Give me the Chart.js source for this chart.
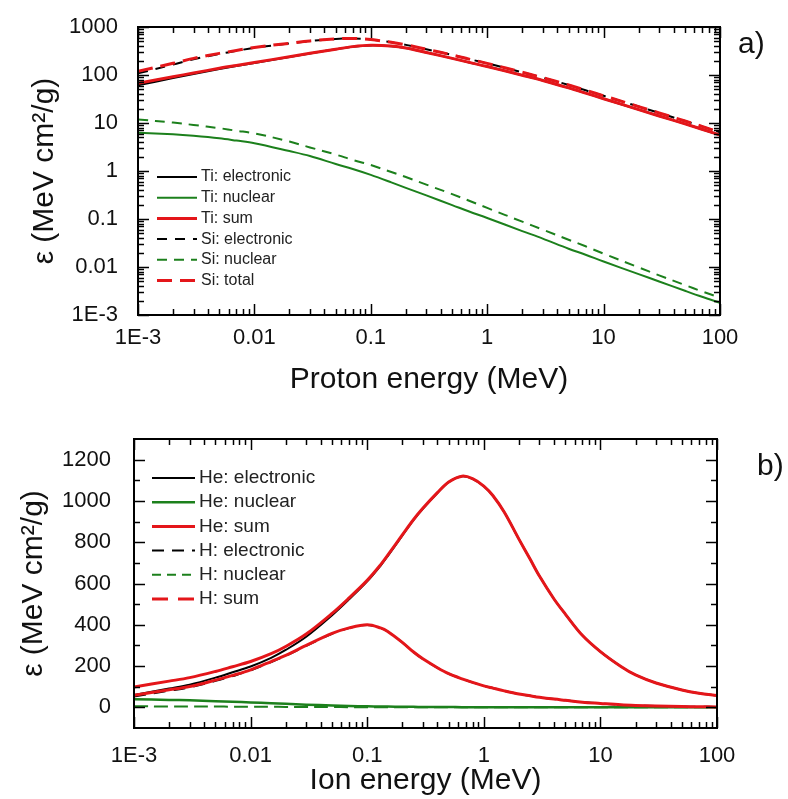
<!DOCTYPE html>
<html>
<head>
<meta charset="utf-8">
<title>Stopping power</title>
<script src="https://cdn.jsdelivr.net/npm/chart.js@4.4.0/dist/chart.umd.min.js"></script>
<style>
  body { margin: 0; background: #fff; }
  #wrap { position: relative; width: 788px; height: 799px; }
  #chartA { position: absolute; left: 0; top: 0; }
  #chartB { position: absolute; left: 0; top: 400px; }
</style>
</head>
<body>
<div id="wrap">
  <canvas id="chartA" width="788" height="400"></canvas>
  <canvas id="chartB" width="788" height="399"></canvas>
</div>
<script>
// ---- panel a) protons in Ti and Si ----
var energyA = [0.001, 0.002, 0.003, 0.005, 0.007, 0.01, 0.02, 0.03, 0.05, 0.07, 0.1, 0.15, 0.2, 0.3, 0.5, 0.7, 1, 2, 3, 5, 7, 10, 20, 30, 50, 70, 100];
var tiElectronic = [61, 86, 105, 133, 154, 178, 237, 281, 344, 389, 414, 399, 365, 295, 222, 183, 150, 99, 77, 54, 42, 32, 19, 14, 9.6, 7.4, 5.6];
var tiNuclear = [6.3, 5.8, 5.4, 4.8, 4.3, 3.8, 2.6, 2.05, 1.4, 1.1, 0.83, 0.58, 0.445, 0.31, 0.195, 0.143, 0.105, 0.056, 0.039, 0.024, 0.018, 0.013, 0.0071, 0.005, 0.0032, 0.0024, 0.0018];
var tiSum = [67, 92, 110, 138, 158, 182, 240, 283, 345, 390, 415, 400, 365, 295, 222, 183, 150, 99, 77, 54, 42, 32, 19, 14, 9.6, 7.4, 5.6];
var siElectronic = [108, 165, 213, 274, 318, 369, 454, 509, 563, 576, 547, 479, 424, 344, 262, 214, 175, 114, 88, 62, 48, 37, 22, 16.2, 11, 8.5, 6.4];
var siNuclear = [11.9, 10.2, 9.1, 7.8, 6.9, 6.1, 4.1, 3.1, 2.2, 1.7, 1.33, 0.95, 0.75, 0.52, 0.33, 0.24, 0.17, 0.088, 0.06, 0.037, 0.027, 0.019, 0.0098, 0.0067, 0.0042, 0.0031, 0.0023];
var siTotal = [120, 175, 222, 282, 325, 375, 458, 512, 565, 578, 548, 480, 425, 345, 262, 214, 175, 114, 88, 62, 48, 37, 22, 16.2, 11, 8.5, 6.4];

// ---- panel b) He and H ions ----
var energyB = [0.001, 0.002, 0.003, 0.005, 0.007, 0.01, 0.015, 0.02, 0.03, 0.05, 0.07, 0.1, 0.13, 0.15, 0.2, 0.25, 0.3, 0.4, 0.5, 0.65, 0.8, 1, 1.2, 1.5, 2, 2.5, 3, 4, 5, 7, 10, 15, 20, 30, 50, 70, 100];
var heElectronic = [60, 91, 110, 144, 170, 198, 240, 278, 342, 446, 523, 610, 686, 733, 832, 908, 962, 1038, 1091, 1119, 1107, 1071, 1024, 945, 815, 717, 636, 525, 452, 349, 270, 198, 157, 118, 84, 68, 57];
var heNuclear = [39, 36, 34, 30, 27, 24, 20, 17, 13, 9, 7, 5, 4.2, 3.6, 2.8, 2.4, 2, 1.6, 1.3, 1.1, 0.9, 0.75, 0.65, 0.5, 0.4, 0.33, 0.28, 0.22, 0.18, 0.13, 0.1, 0.07, 0.05, 0.035, 0.02, 0.015, 0.01];
var heSum = [99, 127, 144, 174, 197, 222, 260, 295, 355, 455, 530, 615, 690, 737, 835, 910, 964, 1040, 1092, 1120, 1108, 1072, 1025, 945, 815, 717, 636, 525, 452, 349, 270, 198, 157, 118, 84, 68, 57];
var hElectronic = [53, 80.5, 96.8, 128.2, 151.6, 179, 219.4, 249.7, 298.1, 356.6, 383.9, 399.1, 384.3, 367.4, 314.5, 267.6, 234.6, 191.7, 162.8, 137.8, 120.8, 103.9, 92.9, 79.9, 64.9, 55.9, 48.9, 40, 34, 25, 19, 12.5, 9.5, 6.5, 4, 2.8, 2];
var hNuclear = [5, 4.5, 4.2, 3.8, 3.4, 3, 2.6, 2.3, 1.9, 1.4, 1.1, 0.9, 0.75, 0.65, 0.5, 0.44, 0.38, 0.3, 0.25, 0.2, 0.17, 0.14, 0.12, 0.1, 0.08, 0.07, 0.06, 0.05, 0.04, 0.03, 0.02, 0.015, 0.01, 0.008, 0.005, 0.004, 0.003];
var hSum = [58, 85, 101, 132, 155, 182, 222, 252, 300, 358, 385, 400, 385, 368, 315, 268, 235, 192, 163, 138, 121, 104, 93, 80, 65, 56, 49, 40, 34, 25, 19, 12.5, 9.5, 6.5, 4, 2.8, 2];

// tick labels
var xTickValues = [0.001, 0.01, 0.1, 1, 10, 100];
var xTickLabels = ['1E-3', '0.01', '0.1', '1', '10', '100'];
var yTickValuesA = [0.001, 0.01, 0.1, 1, 10, 100, 1000];
var yTickLabelsA = ['1E-3', '0.01', '0.1', '1', '10', '100', '1000'];
var yTickValuesB = [0, 200, 400, 600, 800, 1000, 1200];
var yTickLabelsB = ['0', '200', '400', '600', '800', '1000', '1200'];

var RED = 'rgb(228,22,26)', GREEN = 'rgb(28,128,28)', BLACK = '#000';
var FAMILY = "'Liberation Sans', Arial, sans-serif";
Chart.defaults.font.family = FAMILY;
Chart.defaults.color = '#111';

function pts(xs, ys) {
  return xs.map(function (x, i) { return { x: x, y: ys[i] }; });
}

function logMinors(values) {
  var out = [];
  for (var i = 0; i < values.length - 1; i++) {
    for (var k = 2; k <= 9; k++) out.push(values[i] * k);
  }
  return out;
}

// box round the plot with inward ticks on all four sides, plus panel letter
var framePlugin = {
  id: 'frame',
  afterDatasetsDraw: function (chart, args, o) {
    var ctx = chart.ctx, a = chart.chartArea;
    var xs = chart.scales.x, ys = chart.scales.y;
    ctx.save();
    ctx.strokeStyle = '#000';
    ctx.lineWidth = 1.5;
    function seg(x1, y1, x2, y2) { ctx.beginPath(); ctx.moveTo(x1, y1); ctx.lineTo(x2, y2); ctx.stroke(); }
    function tx(v, len) { var p = Math.round(xs.getPixelForValue(v)) + 0.5; seg(p, a.bottom, p, a.bottom - len); seg(p, a.top, p, a.top + len); }
    function ty(v, len) { var p = Math.round(ys.getPixelForValue(v)) + 0.5; seg(a.left, p, a.left + len, p); seg(a.right, p, a.right - len, p); }
    o.xMajor.forEach(function (v) { tx(v, 11); });
    o.xMinor.forEach(function (v) { tx(v, 6); });
    o.yMajor.forEach(function (v) { ty(v, 11); });
    o.yMinor.forEach(function (v) { ty(v, 6); });
    ctx.lineWidth = 2;
    ctx.strokeRect(a.left, a.top, a.right - a.left, a.bottom - a.top);
    ctx.fillStyle = '#111';
    ctx.font = '30px ' + FAMILY;
    ctx.textBaseline = 'middle';
    ctx.fillText(o.label, o.labelX, o.labelY);
    ctx.restore();
  }
};

// legend drawn inside the plot
var legendPlugin = {
  id: 'inlineLegend',
  afterDraw: function (chart, args, o) {
    var ctx = chart.ctx;
    chart.data.datasets.forEach(function (ds, i) {
      var y = o.y + i * o.dy;
      ctx.save();
      ctx.strokeStyle = ds.borderColor;
      ctx.lineWidth = ds.borderWidth;
      ctx.setLineDash(ds.legendDash || ds.borderDash || []);
      ctx.beginPath(); ctx.moveTo(o.x, y); ctx.lineTo(o.x + o.len, y); ctx.stroke();
      ctx.setLineDash([]);
      ctx.fillStyle = '#222';
      ctx.font = o.size + 'px ' + FAMILY;
      ctx.textBaseline = 'middle';
      ctx.fillText(ds.label, o.x + o.len + 4, y);
      ctx.restore();
    });
  }
};

function line(label, xs, ys, color, width, dash, order, legendDash) {
  return {
    label: label, data: pts(xs, ys), borderColor: color, backgroundColor: color,
    borderWidth: width, borderDash: dash || [], legendDash: legendDash,
    pointRadius: 0, fill: false, tension: 0.35, order: order
  };
}

function xAxis(title, labelPad, titlePad, height) {
  return {
    type: 'logarithmic', min: 0.001, max: 100,
    grid: { display: false }, border: { display: false },
    afterBuildTicks: function (s) { s.ticks = xTickValues.map(function (v) { return { value: v }; }); },
    afterFit: function (s) { s.height = height; },
    ticks: {
      font: { size: 22 }, padding: labelPad, maxRotation: 0, autoSkip: false,
      callback: function (v) { return xTickLabels[xTickValues.indexOf(v)]; }
    },
    title: { display: true, text: title, font: { size: 30 }, padding: { top: 0, bottom: titlePad } }
  };
}

new Chart(document.getElementById('chartA'), {
  type: 'line',
  data: {
    datasets: [
      line('Ti: electronic', energyA, tiElectronic, BLACK, 2, [], 3),
      line('Ti: nuclear', energyA, tiNuclear, GREEN, 2, [], 2),
      line('Ti: sum', energyA, tiSum, RED, 3, [], 1),
      line('Si: electronic', energyA, siElectronic, BLACK, 2, [10, 8], 3),
      line('Si: nuclear', energyA, siNuclear, GREEN, 2, [10, 7], 2),
      line('Si: total', energyA, siTotal, RED, 3, [15, 8], 0)
    ]
  },
  options: {
    responsive: false, animation: false,
    layout: { padding: { left: 0, right: 68, top: 27, bottom: 0 } },
    scales: {
      x: xAxis('Proton energy (MeV)', 2, 2, 85),
      y: {
        type: 'logarithmic', min: 0.001, max: 1000,
        grid: { display: false }, border: { display: false },
        afterBuildTicks: function (s) { s.ticks = yTickValuesA.map(function (v) { return { value: v }; }); },
        afterFit: function (s) { s.width = 138; },
        ticks: {
          font: { size: 22 }, padding: 12, autoSkip: false,
          callback: function (v) { return yTickLabelsA[yTickValuesA.indexOf(v)]; }
        },
        title: { display: true, text: 'ε (MeV cm²/g)', font: { size: 30 }, padding: { top: 27, bottom: 0 } }
      }
    },
    plugins: {
      legend: { display: false }, tooltip: { enabled: false },
      frame: { xMajor: xTickValues, xMinor: logMinors(xTickValues), yMajor: yTickValuesA, yMinor: logMinors(yTickValuesA), label: 'a)', labelX: 738, labelY: 45 },
      inlineLegend: { x: 157, y: 177, dy: 20.7, len: 40, size: 16 }
    }
  },
  plugins: [framePlugin, legendPlugin]
});

new Chart(document.getElementById('chartB'), {
  type: 'line',
  data: {
    datasets: [
      line('He: electronic', energyB, heElectronic, BLACK, 2, [], 3),
      line('He: nuclear', energyB, heNuclear, GREEN, 2.5, [], 2),
      line('He: sum', energyB, heSum, RED, 3, [], 1),
      line('H: electronic', energyB, hElectronic, BLACK, 2, [12, 8], 4),
      line('H: nuclear', energyB, hNuclear, GREEN, 2, [14, 6], 2, [9, 6]),
      line('H: sum', energyB, hSum, RED, 3, [], 1, [16, 10])
    ]
  },
  options: {
    responsive: false, animation: false,
    layout: { padding: { left: 0, right: 71, top: 39, bottom: 0 } },
    scales: {
      x: xAxis('Ion energy (MeV)', 7, 0, 71),
      y: {
        type: 'linear', min: -100, max: 1300,
        grid: { display: false }, border: { display: false },
        afterBuildTicks: function (s) { s.ticks = yTickValuesB.map(function (v) { return { value: v }; }); },
        afterFit: function (s) { s.width = 134; },
        ticks: {
          font: { size: 22 }, padding: 15, autoSkip: false,
          callback: function (v) { return yTickLabelsB[yTickValuesB.indexOf(v)]; }
        },
        title: { display: true, text: 'ε (MeV cm²/g)', font: { size: 30 }, padding: { top: 16, bottom: 0 } }
      }
    },
    plugins: {
      legend: { display: false }, tooltip: { enabled: false },
      frame: { xMajor: xTickValues, xMinor: logMinors(xTickValues), yMajor: yTickValuesB, yMinor: [100, 300, 500, 700, 900, 1100], label: 'b)', labelX: 757, labelY: 67 },
      inlineLegend: { x: 152, y: 78, dy: 24.2, len: 43, size: 19 }
    }
  },
  plugins: [framePlugin, legendPlugin]
});
</script>
</body>
</html>
